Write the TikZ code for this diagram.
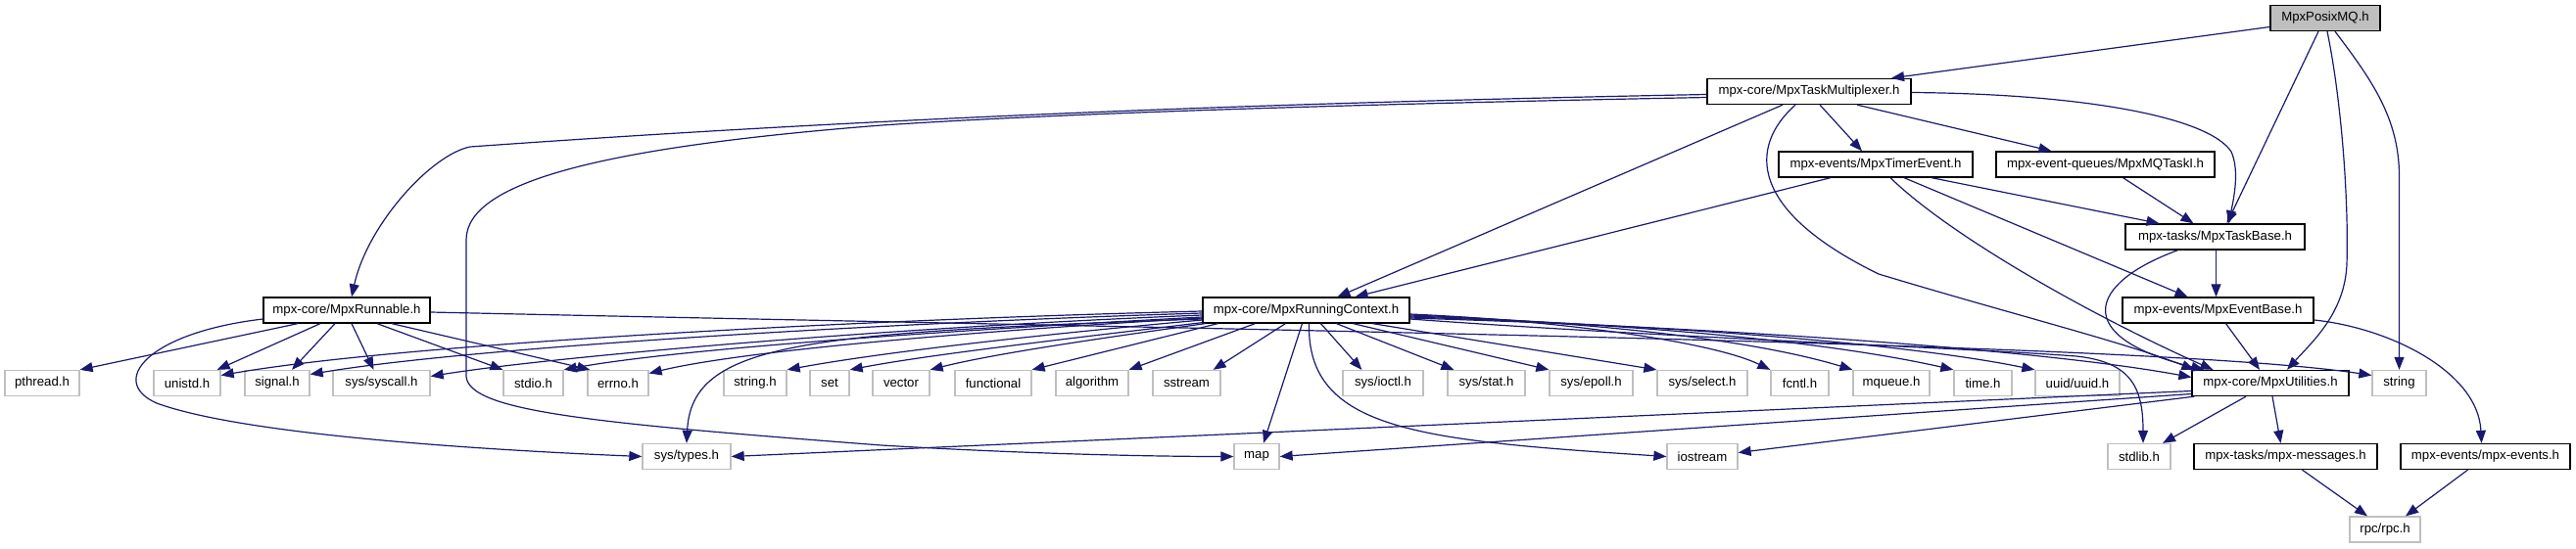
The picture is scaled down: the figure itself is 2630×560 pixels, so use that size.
\documentclass[tikz,border=0pt]{standalone}
\usepackage{fontspec}
\setmainfont{Liberation Sans}
\usetikzlibrary{arrows.meta,calc}
\definecolor{edgeblue}{RGB}{25,25,112}
\definecolor{sysgray}{RGB}{191,191,191}
\definecolor{rootgray}{RGB}{191,191,191}
\begin{document}
\begin{tikzpicture}[x=1pt,y=-1pt,
  hdr/.style={draw=black,line width=1.3pt,fill=white,minimum height=26pt,inner sep=0pt,font=\fontsize{13.2}{15}\selectfont},
  sys/.style={hdr,draw=sysgray},
  dep/.style={draw=edgeblue,line width=1.2pt,-{Triangle[length=13pt,width=10pt]}}]
\useasboundingbox (0,0) rectangle (2630,560);
% row 0-4
\node[hdr,fill=rootgray,minimum width=112pt] (posix) at (2374,18.5) {MpxPosixMQ.h};
\node[hdr,minimum width=208pt] (mux) at (1847,93.5) {mpx-core/MpxTaskMultiplexer.h};
\node[hdr,minimum width=198pt] (timer) at (1915,168) {mpx-events/MpxTimerEvent.h};
\node[hdr,minimum width=223pt] (mqtask) at (2149.5,168) {mpx-event-queues/MpxMQTaskI.h};
\node[hdr,minimum width=183pt] (taskbase) at (2261.5,242) {mpx-tasks/MpxTaskBase.h};
\node[hdr,minimum width=170pt] (runnable) at (354,317) {mpx-core/MpxRunnable.h};
\node[hdr,minimum width=211pt] (runctx) at (1333.5,317) {mpx-core/MpxRunningContext.h};
\node[hdr,minimum width=195pt] (eventbase) at (2264.5,317) {mpx-events/MpxEventBase.h};
% row 5
\node[sys,minimum width=76pt] (pthread) at (43,391.5) {pthread.h};
\node[sys,minimum width=68pt] (unistd) at (191,391.5) {unistd.h};
\node[sys,minimum width=66pt] (signal) at (283,391.5) {signal.h};
\node[sys,minimum width=99pt] (syscall) at (389.5,391.5) {sys/syscall.h};
\node[sys,minimum width=61pt] (stdio) at (544.5,391.5) {stdio.h};
\node[sys,minimum width=62pt] (errno) at (631,391.5) {errno.h};
\node[sys,minimum width=64pt] (stringh) at (771,391.5) {string.h};
\node[sys,minimum width=40pt] (set) at (847,391.5) {set};
\node[sys,minimum width=58pt] (vector) at (920,391.5) {vector};
\node[sys,minimum width=78pt] (functional) at (1014,391.5) {functional};
\node[sys,minimum width=74pt] (algorithm) at (1115,391.5) {algorithm};
\node[sys,minimum width=69pt] (sstream) at (1211.5,391.5) {sstream};
\node[sys,minimum width=82pt] (ioctl) at (1412,391.5) {sys/ioctl.h};
\node[sys,minimum width=79pt] (stat) at (1517.5,391.5) {sys/stat.h};
\node[sys,minimum width=85pt] (epoll) at (1624.5,391.5) {sys/epoll.h};
\node[sys,minimum width=92pt] (select) at (1738,391.5) {sys/select.h};
\node[sys,minimum width=59pt] (fcntl) at (1837.5,391.5) {fcntl.h};
\node[sys,minimum width=78pt] (mqueue) at (1931,391.5) {mqueue.h};
\node[sys,minimum width=59pt] (timeh) at (2024.5,391.5) {time.h};
\node[sys,minimum width=86pt] (uuid) at (2121,391.5) {uuid/uuid.h};
\node[hdr,minimum width=160pt] (utilities) at (2318,391.5) {mpx-core/MpxUtilities.h};
\node[sys,minimum width=55pt] (string) at (2449.5,391.5) {string};
% row 6-7
\node[sys,minimum width=90pt] (systypes) at (701,466.5) {sys/types.h};
\node[sys,minimum width=46pt] (map) at (1283,466.5) {map};
\node[sys,minimum width=72pt] (iostream) at (1738,466.5) {iostream};
\node[sys,minimum width=64pt] (stdlib) at (2184,466.5) {stdlib.h};
\node[hdr,minimum width=187pt] (messages) at (2333.5,466.5) {mpx-tasks/mpx-messages.h};
\node[hdr,minimum width=173pt] (events) at (2537.5,466.5) {mpx-events/mpx-events.h};
\node[sys,minimum width=72pt] (rpc) at (2435,541) {rpc/rpc.h};

% MpxPosixMQ.h
\draw[dep] ($(posix.west)+(0,9)$) -- ($(mux.north)+(84,0)$);
\draw[dep] ($(posix.south)+(-7,0)$) -- ($(taskbase.north)+(12,0)$);
\draw[dep] ($(posix.south)+(2,0)$) .. controls (2390,100) and (2398,200) .. (2396,270) .. controls (2394,320) and (2360,350) .. ($(utilities.north)+(17,0)$);
\draw[dep] ($(posix.south)+(10,0)$) .. controls (2420,80) and (2449.5,120) .. (2449.5,180) -- (string.north);
% MpxTaskMultiplexer.h
\draw[dep] ($(mux.west)+(0,3)$) .. controls (1300,105) and (900,120) .. (480,150) .. controls (440,158) and (375,230) .. ($(runnable.north)+(5,0)$);
\draw[dep] ($(mux.west)+(0,6)$) .. controls (1300,108) and (1050,118) .. (900,128) .. controls (620,150) and (476,185) .. (476,245) -- (476,385) .. controls (480,420) and (600,432) .. (900,455) .. controls (1050,464) and (1180,466.5) .. (map.west);
\draw[dep] ($(mux.south)+(-27,0)$) -- ($(runctx.north)+(32,0)$);
\draw[dep] ($(mux.south)+(-14,0)$) .. controls (1785,150) and (1785,215) .. (1918,280) .. controls (2050,320) and (2170,350) .. ($(utilities.north west)+(3,0)$);
\draw[dep] ($(mux.south)+(11,0)$) -- ($(timer.north)+(-14,0)$);
\draw[dep] ($(mux.south)+(49,0)$) -- ($(mqtask.north)+(-55,0)$);
\draw[dep] ($(mux.east)+(0,1)$) .. controls (2130,96) and (2255,120) .. (2278,155) .. controls (2287,175) and (2280,205) .. ($(taskbase.north)+(14,0)$);
% MpxTimerEvent.h
\draw[dep] ($(timer.south)+(-46,0)$) -- ($(runctx.north)+(50,0)$);
\draw[dep] ($(timer.south)+(57,0)$) -- ($(taskbase.north)+(-57,0)$);
\draw[dep] ($(timer.south)+(29,0)$) -- ($(eventbase.north)+(-31,0)$);
\draw[dep] ($(timer.south)+(15,0)$) .. controls (1990,240) and (2130,320) .. ($(utilities.north west)+(22,0)$);
% MpxMQTaskI.h, MpxTaskBase.h, MpxEventBase.h
\draw[dep] ($(mqtask.south)+(18,0)$) -- ($(taskbase.north)+(-22,0)$);
\draw[dep] ($(taskbase.south)+(1,0)$) -- ($(eventbase.north)+(-2,0)$);
\draw[dep] ($(taskbase.south)+(-38,0)$) .. controls (2130,290) and (2115,345) .. ($(utilities.north west)+(13,0)$);
\draw[dep] ($(eventbase.south)+(8,0)$) -- ($(utilities.north)+(-11,0)$);
\draw[dep] ($(eventbase.east)+(0,10)$) .. controls (2440,335) and (2530,380) .. ($(events.north)+(-4,0)$);
% MpxUtilities.h
\draw[dep] ($(utilities.west)+(0,8)$) -- (systypes.east);
\draw[dep] ($(utilities.west)+(0,11)$) -- (map.east);
\draw[dep] ($(utilities.south west)+(3,0)$) -- ($(iostream.east)+(0,-4)$);
\draw[dep] ($(utilities.south)+(-25,0)$) -- ($(stdlib.north)+(24,0)$);
\draw[dep] ($(utilities.south)+(2,0)$) -- ($(messages.north)+(-5,0)$);
\draw[dep] ($(messages.south)+(17,0)$) -- ($(rpc.north)+(-18,0)$);
\draw[dep] ($(events.south)+(-18,0)$) -- ($(rpc.north)+(21,0)$);
% MpxRunnable.h
\draw[dep] ($(runnable.south)+(-50,0)$) -- (pthread.north east);
\draw[dep] ($(runnable.south)+(-27,0)$) -- ($(unistd.north east)+(-4,0)$);
\draw[dep] ($(runnable.south)+(-12,0)$) -- ($(signal.north)+(15,0)$);
\draw[dep] ($(runnable.south)+(5,0)$) -- ($(syscall.north)+(-8,0)$);
\draw[dep] ($(runnable.south)+(31,0)$) -- (stdio.north west);
\draw[dep] ($(runnable.south)+(46,0)$) -- ($(errno.north west)+(3,0)$);
\draw[dep] ($(runnable.west)+(0,9)$) .. controls (150,340) and (110,390) .. (160,412) .. controls (250,445) and (500,460) .. (systypes.west);
\draw[dep] ($(runnable.east)+(0,2)$) .. controls (1300,338) and (2200,350) .. ($(string.west)+(0,-8)$);
% MpxRunningContext.h, left
\draw[dep] ($(runctx.west)+(0,1)$) .. controls (900,326) and (420,350) .. ($(unistd.east)+(0,-8)$);
\draw[dep] ($(runctx.west)+(0,3)$) .. controls (900,330) and (480,355) .. ($(signal.east)+(0,-9)$);
\draw[dep] ($(runctx.west)+(0,5)$) .. controls (900,335) and (560,365) .. ($(syscall.east)+(0,-7)$);
\draw[dep] ($(runctx.west)+(0,7)$) .. controls (1000,336) and (700,355) .. (stdio.north east);
\draw[dep] ($(runctx.west)+(0,8)$) .. controls (1000,338) and (760,358) .. ($(errno.east)+(0,-10)$);
\draw[dep] ($(runctx.west)+(0,9)$) .. controls (820,340) and (706,350) .. (systypes.north);
\draw[dep] ($(runctx.west)+(0,10)$) .. controls (1060,342) and (900,360) .. (stringh.north east);
\draw[dep] ($(runctx.south west)+(0,-1)$) .. controls (1100,345) and (950,362) .. (set.north east);
\draw[dep] ($(runctx.south west)+(3,0)$) .. controls (1150,342) and (1020,360) .. (vector.north east);
\draw[dep] ($(runctx.south west)+(16,0)$) -- (functional.north east);
\draw[dep] ($(runctx.south west)+(54,0)$) -- (algorithm.north east);
\draw[dep] ($(runctx.south west)+(85,0)$) -- ($(sstream.north east)+(-8,0)$);
% MpxRunningContext.h, bottom
\draw[dep] ($(runctx.south)+(-4,0)$) -- ($(map.north)+(7,0)$);
\draw[dep] ($(runctx.south)+(3,0)$) .. controls (1334,440) and (1450,450) .. (iostream.west);
\draw[dep] ($(runctx.south)+(15,0)$) -- ($(ioctl.north west)+(20,0)$);
\draw[dep] ($(runctx.south)+(31,0)$) -- ($(stat.north west)+(7,0)$);
\draw[dep] ($(runctx.south)+(48,0)$) -- (epoll.north west);
\draw[dep] ($(runctx.south)+(68,0)$) -- (select.north west);
% MpxRunningContext.h, right
\draw[dep] ($(runctx.east)+(0,4)$) .. controls (1600,328) and (1750,350) .. (fcntl.north west);
\draw[dep] ($(runctx.east)+(0,5)$) .. controls (1650,330) and (1800,350) .. (mqueue.north west);
\draw[dep] ($(runctx.east)+(0,6)$) .. controls (1700,332) and (1880,352) .. (timeh.north west);
\draw[dep] ($(runctx.east)+(0,7)$) .. controls (1750,334) and (1960,354) .. (uuid.north west);
\draw[dep] ($(runctx.east)+(0,8)$) .. controls (1800,336) and (2100,360) .. ($(utilities.west)+(0,-6)$);
\draw[dep] ($(runctx.east)+(0,9)$) .. controls (1700,345) and (2000,355) .. (2120,364) .. controls (2175,370) and (2188,395) .. ($(stdlib.north)+(4,0)$);
\end{tikzpicture}
\end{document}
